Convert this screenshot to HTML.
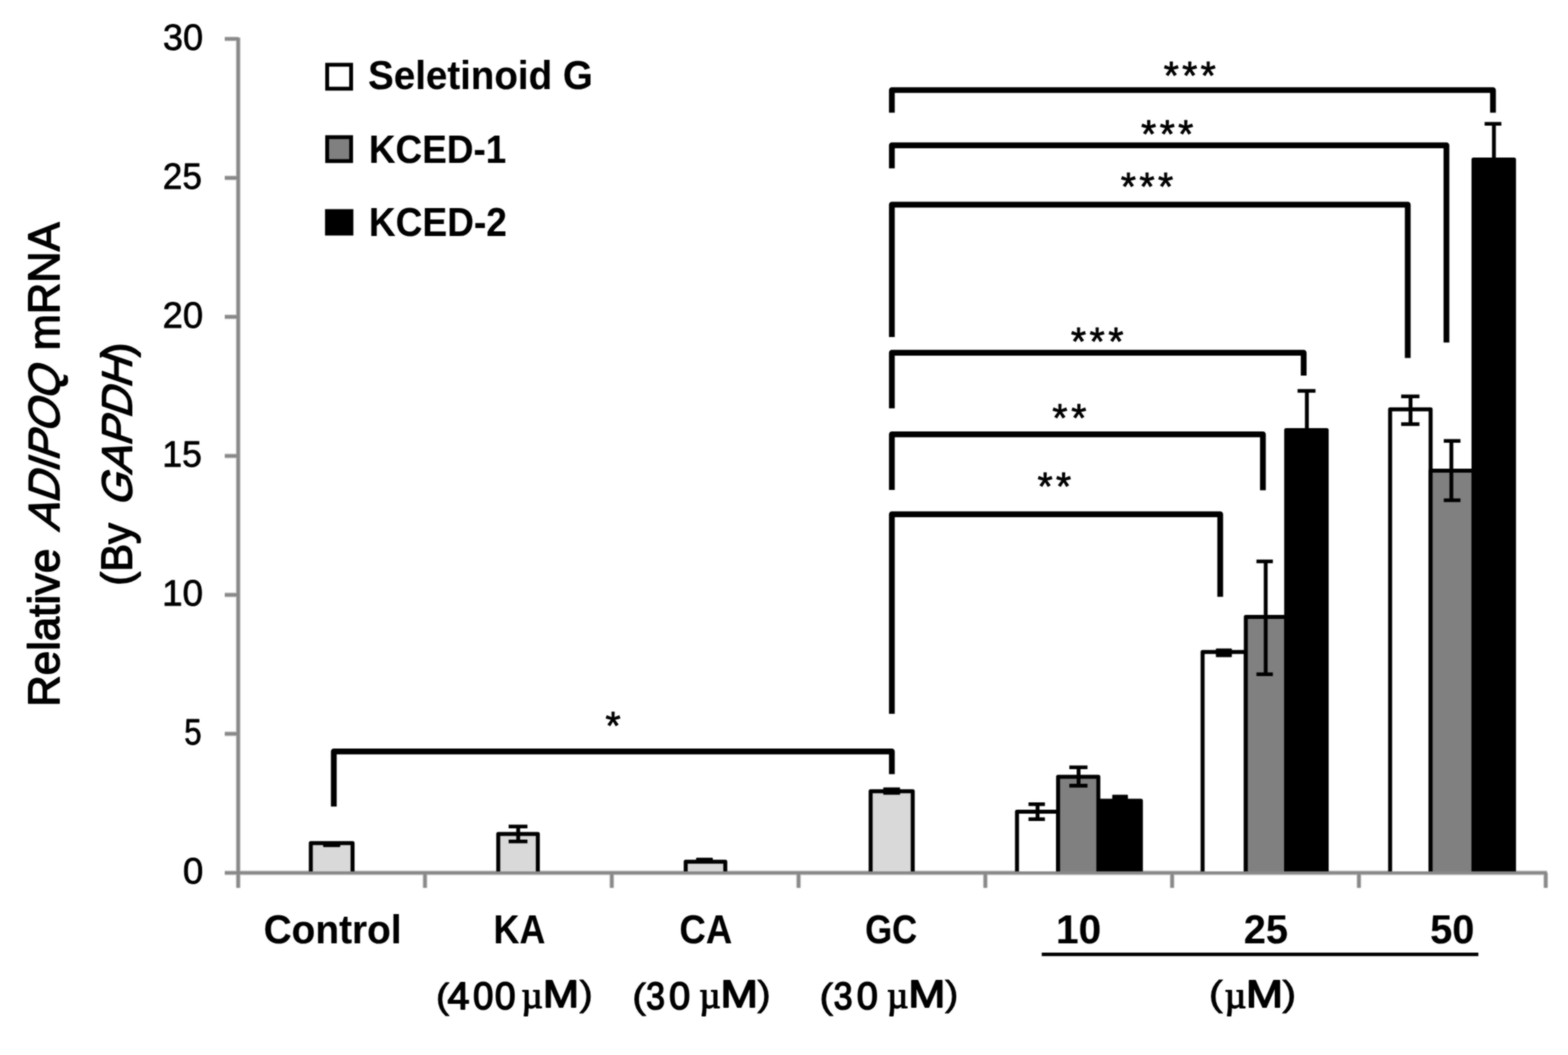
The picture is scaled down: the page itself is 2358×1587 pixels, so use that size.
<!DOCTYPE html>
<html lang="en"><head><meta charset="utf-8"><title>Relative ADIPOQ mRNA (By GAPDH)</title>
<style>
html,body{margin:0;padding:0;background:#fff;}
body{width:2358px;height:1587px;overflow:hidden;}
svg{display:block;}
text{font-family:"Liberation Sans",sans-serif;fill:#000;white-space:pre;stroke:#000;stroke-width:0.6px;stroke-linejoin:round;paint-order:stroke;}
.b{font-weight:bold;}
.i{font-style:italic;}
</style></head><body>
<svg width="2358" height="1587" viewBox="0 0 2358 1587">
<defs><filter id="soft" x="0" y="0" width="2358" height="1587" filterUnits="userSpaceOnUse" color-interpolation-filters="sRGB"><feGaussianBlur stdDeviation="0.90" result="b"/><feComposite in="SourceGraphic" in2="b" operator="arithmetic" k1="0" k2="0.30" k3="0.70" k4="0"/></filter></defs>
<rect x="0" y="0" width="2358" height="1587" fill="#fff"/>
<g filter="url(#soft)">
<path d="M358.2 56.6V1335.4M338.0 1313.0H2326.4M338.0 1103.9H358.2M338.0 894.8H358.2M338.0 685.8H358.2M338.0 476.7H358.2M338.0 267.6H358.2M338.0 58.5H358.2M639.1 1313.0V1335.4M920.0 1313.0V1335.4M1200.9 1313.0V1335.4M1481.8 1313.0V1335.4M1762.7 1313.0V1335.4M2043.6 1313.0V1335.4M2324.5 1313.0V1335.4" fill="none" stroke="#c8c8c8" stroke-width="7.2"/>
<path d="M467.4 1313.0V1268.3H530.2V1313.0" fill="#d9d9d9" stroke="#000" stroke-width="6.0" stroke-linejoin="round"/>
<path d="M749.3 1313.0V1254.6H808.8V1313.0" fill="#d9d9d9" stroke="#000" stroke-width="6.0" stroke-linejoin="round"/>
<path d="M1031.2 1313.0V1296.2H1090.7V1313.0" fill="#d9d9d9" stroke="#000" stroke-width="6.0" stroke-linejoin="round"/>
<path d="M1309.3 1313.0V1190.3H1372.6V1313.0" fill="#d9d9d9" stroke="#000" stroke-width="6.0" stroke-linejoin="round"/>
<path d="M1529.4 1313.0V1221.0H1591.2V1313.0" fill="#fff" stroke="#000" stroke-width="6.0" stroke-linejoin="round"/>
<path d="M1591.2 1313.0V1168.4H1651.7V1313.0" fill="#808080" stroke="#000" stroke-width="6.0" stroke-linejoin="round"/>
<path d="M1654.7 1313.0V1204.5H1715.7V1313.0" fill="#000" stroke="#000" stroke-width="6.0" stroke-linejoin="round"/>
<path d="M1808.5 1313.0V980.8H1873.5V1313.0" fill="#fff" stroke="#000" stroke-width="6.0" stroke-linejoin="round"/>
<path d="M1873.5 1313.0V928.0H1934.2V1313.0" fill="#808080" stroke="#000" stroke-width="6.0" stroke-linejoin="round"/>
<path d="M1934.2 1313.0V646.9H1995.1V1313.0" fill="#000" stroke="#000" stroke-width="6.0" stroke-linejoin="round"/>
<path d="M2090.5 1313.0V615.8H2151.4V1313.0" fill="#fff" stroke="#000" stroke-width="6.0" stroke-linejoin="round"/>
<path d="M2151.4 1313.0V708.0H2215.9V1313.0" fill="#808080" stroke="#000" stroke-width="6.0" stroke-linejoin="round"/>
<path d="M2215.9 1313.0V240.1H2276.8V1313.0" fill="#000" stroke="#000" stroke-width="6.0" stroke-linejoin="round"/>
<rect x="485.9" y="1267.4" width="25.8" height="6.9" rx="1.2" fill="#000"/>
<path d="M764.9 1243.3H793.2M764.9 1265.7H793.2" fill="none" stroke="#000" stroke-width="5.6"/>
<path d="M779.3 1243.3V1265.7" fill="none" stroke="#000" stroke-width="5.8"/>
<rect x="1046.8" y="1290.3" width="25.2" height="6.8" rx="1.2" fill="#000"/>
<rect x="1328.3" y="1184.4" width="25.3" height="11.2" rx="1.2" fill="#000"/>
<path d="M1546.7 1209.8H1571.4M1546.7 1232.2H1571.4" fill="none" stroke="#000" stroke-width="5.6"/>
<path d="M1560.3 1209.8V1232.2" fill="none" stroke="#000" stroke-width="5.8"/>
<path d="M1608.1 1154.2H1635.4M1608.1 1181.9H1635.4" fill="none" stroke="#000" stroke-width="5.6"/>
<path d="M1622.0 1154.2V1181.9" fill="none" stroke="#000" stroke-width="5.8"/>
<rect x="1672.6" y="1195.4" width="23.6" height="8.2" rx="1.2" fill="#000"/>
<rect x="1828.5" y="975.4" width="24.0" height="13.2" rx="1.2" fill="#000"/>
<path d="M1889.5 844.5H1914.2M1889.5 1014.2H1914.2" fill="none" stroke="#000" stroke-width="5.6"/>
<path d="M1903.4 844.5V1014.2" fill="none" stroke="#000" stroke-width="5.8"/>
<path d="M1951.3 588.0H1978.3M1951.3 650.0H1978.3" fill="none" stroke="#000" stroke-width="5.6"/>
<path d="M1965.3 588.0V650.0" fill="none" stroke="#000" stroke-width="5.8"/>
<path d="M2107.1 596.3H2134.6M2107.1 638.0H2134.6" fill="none" stroke="#000" stroke-width="5.6"/>
<path d="M2121.2 596.3V638.0" fill="none" stroke="#000" stroke-width="5.8"/>
<path d="M2171.2 663.2H2196.3M2171.2 752.5H2196.3" fill="none" stroke="#000" stroke-width="5.6"/>
<path d="M2182.6 663.2V752.5" fill="none" stroke="#000" stroke-width="5.8"/>
<path d="M2232.6 186.3H2257.8M2232.6 245.0H2257.8" fill="none" stroke="#000" stroke-width="5.6"/>
<path d="M2246.6 186.3V245.0" fill="none" stroke="#000" stroke-width="5.8"/>
<path d="M358.2 56.6V1335.4M338.0 1313.0H2326.4M338.0 1103.9H358.2M338.0 894.8H358.2M338.0 685.8H358.2M338.0 476.7H358.2M338.0 267.6H358.2M338.0 58.5H358.2M639.1 1313.0V1335.4M920.0 1313.0V1335.4M1200.9 1313.0V1335.4M1481.8 1313.0V1335.4M1762.7 1313.0V1335.4M2043.6 1313.0V1335.4M2324.5 1313.0V1335.4" fill="none" stroke="#888888" stroke-width="4.7"/>
<text y="74.7" font-size="56.1" style="stroke-width:1.0px"><tspan x="245.1" textLength="60.4" lengthAdjust="spacingAndGlyphs">30</tspan></text>
<text y="283.8" font-size="56.1" style="stroke-width:1.0px"><tspan x="244.7" textLength="58.9" lengthAdjust="spacingAndGlyphs">25</tspan></text>
<text y="492.9" font-size="56.1" style="stroke-width:1.0px"><tspan x="244.6" textLength="61.0" lengthAdjust="spacingAndGlyphs">20</tspan></text>
<text y="702.0" font-size="56.1" style="stroke-width:1.0px"><tspan x="243.9" textLength="59.7" lengthAdjust="spacingAndGlyphs">15</tspan></text>
<text y="911.0" font-size="56.1" style="stroke-width:1.0px"><tspan x="243.7" textLength="61.8" lengthAdjust="spacingAndGlyphs">10</tspan></text>
<text y="1120.1" font-size="56.1" style="stroke-width:1.0px"><tspan x="277.0" textLength="26.2" lengthAdjust="spacingAndGlyphs">5</tspan></text>
<text y="1329.2" font-size="56.1" style="stroke-width:1.0px"><tspan x="275.0" textLength="30.8" lengthAdjust="spacingAndGlyphs">0</tspan></text>
<text transform="translate(89.4 1587) rotate(-90)" x="523.8" y="0" font-size="65.8" textLength="237.7" lengthAdjust="spacingAndGlyphs" style="stroke-width:2.0px">Relative</text>
<text transform="translate(89.4 1587) rotate(-90) translate(787.1 0) skewX(-19)" x="0.0" y="0" font-size="65.8" textLength="246.3" lengthAdjust="spacingAndGlyphs" style="stroke-width:2.0px">ADIPOQ</text>
<text transform="translate(89.4 1587) rotate(-90)" x="1060.1" y="0" font-size="65.8" textLength="192.5" lengthAdjust="spacingAndGlyphs" style="stroke-width:2.0px">mRNA</text>
<text transform="translate(197.5 1587) rotate(-90)" x="706.1" y="0" font-size="63.9" textLength="94.1" lengthAdjust="spacingAndGlyphs" style="stroke-width:2.0px">(By</text>
<text transform="translate(197.5 1587) rotate(-90) translate(824.2 0) skewX(-19)" x="0.0" y="0" font-size="63.9" textLength="223.0" lengthAdjust="spacingAndGlyphs" style="stroke-width:2.0px">GAPDH</text>
<text transform="translate(197.5 1587) rotate(-90)" x="1049.4" y="0" font-size="63.9" textLength="22.2" lengthAdjust="spacingAndGlyphs" style="stroke-width:2.0px">)</text>
<rect x="492.0" y="97.4" width="36.0" height="36.0" fill="#fff" stroke="#000" stroke-width="5.8"/>
<rect x="492.0" y="206.3" width="36.0" height="36.0" fill="#808080" stroke="#000" stroke-width="5.8"/>
<rect x="488.8" y="314.6" width="42.6" height="39.7" fill="#000"/>
<text class="b" y="133.5" font-size="60.4" style="stroke-width:0.2px"><tspan x="553.6" textLength="337.9" lengthAdjust="spacingAndGlyphs">Seletinoid G</tspan></text>
<text class="b" y="244.9" font-size="60.1" style="stroke-width:0.2px"><tspan x="554.8" textLength="206.5" lengthAdjust="spacingAndGlyphs">KCED-1</tspan></text>
<text class="b" y="354.5" font-size="61.2" style="stroke-width:0.2px"><tspan x="554.8" textLength="207.4" lengthAdjust="spacingAndGlyphs">KCED-2</tspan></text>
<path d="M1341.2 169.5V135.5H2245.2V169.5" fill="none" stroke="#000" stroke-width="8.7" stroke-linejoin="round"/>
<path d="M1341.2 253.2V218.7H2175.2V515.3" fill="none" stroke="#000" stroke-width="8.7" stroke-linejoin="round"/>
<path d="M1341.2 507.1V307.8H2117.0V538.5" fill="none" stroke="#000" stroke-width="8.7" stroke-linejoin="round"/>
<path d="M1341.2 614.3V530.7H1960.5V565.0" fill="none" stroke="#000" stroke-width="8.7" stroke-linejoin="round"/>
<path d="M1341.2 736.9V653.4H1899.2V737.5" fill="none" stroke="#000" stroke-width="8.7" stroke-linejoin="round"/>
<path d="M1341.2 1073.8V773.6H1835.0V897.8" fill="none" stroke="#000" stroke-width="8.7" stroke-linejoin="round"/>
<path d="M502.0 1213.3V1130.3H1341.2V1164.5" fill="none" stroke="#000" stroke-width="8.7" stroke-linejoin="round"/>
<text x="1749.9" y="133.9" font-size="58.6" letter-spacing="5.00" style="stroke-width:1.1px">***</text>
<text x="1716.1" y="222.4" font-size="58.6" letter-spacing="5.05" style="stroke-width:1.1px">***</text>
<text x="1685.4" y="300.7" font-size="58.6" letter-spacing="5.30" style="stroke-width:1.1px">***</text>
<text x="1610.4" y="534.4" font-size="58.6" letter-spacing="5.35" style="stroke-width:1.1px">***</text>
<text x="1582.4" y="648.7" font-size="58.6" letter-spacing="5.70" style="stroke-width:1.1px">**</text>
<text x="1560.3" y="751.7" font-size="58.6" letter-spacing="5.00" style="stroke-width:1.1px">**</text>
<text x="910.5" y="1111.9" font-size="58.6" letter-spacing="0.00" style="stroke-width:1.1px">*</text>
<text class="b" y="1419.0" font-size="60.4" style="stroke-width:0.2px"><tspan x="396.4" textLength="207.6" lengthAdjust="spacingAndGlyphs">Control</tspan></text>
<text class="b" y="1419.0" font-size="60.4" style="stroke-width:0.2px"><tspan x="742.3" textLength="77.8" lengthAdjust="spacingAndGlyphs">KA</tspan></text>
<text class="b" y="1419.0" font-size="60.4" style="stroke-width:0.2px"><tspan x="1021.8" textLength="79.3" lengthAdjust="spacingAndGlyphs">CA</tspan></text>
<text class="b" y="1419.0" font-size="60.4" style="stroke-width:0.2px"><tspan x="1300.9" textLength="78.4" lengthAdjust="spacingAndGlyphs">GC</tspan></text>
<text class="b" y="1419.0" font-size="60.4" style="stroke-width:0.2px"><tspan x="1587.9" textLength="68.0" lengthAdjust="spacingAndGlyphs">10</tspan></text>
<text class="b" y="1419.0" font-size="60.4" style="stroke-width:0.2px"><tspan x="1870.5" textLength="66.3" lengthAdjust="spacingAndGlyphs">25</tspan></text>
<text class="b" y="1419.0" font-size="60.4" style="stroke-width:0.2px"><tspan x="2150.7" textLength="66.4" lengthAdjust="spacingAndGlyphs">50</tspan></text>
<text><tspan x="655.2" y="1516.5" font-size="53.8" textLength="20.7" lengthAdjust="spacingAndGlyphs" style="stroke-width:1.0px">(</tspan><tspan x="673.1" y="1517.7" font-size="56.5" textLength="33.0" lengthAdjust="spacingAndGlyphs" style="stroke-width:2.2px">4</tspan><tspan x="711.5" y="1517.7" font-size="56.5" textLength="30.4" lengthAdjust="spacingAndGlyphs" style="stroke-width:2.2px">0</tspan><tspan x="744.3" y="1517.7" font-size="56.5" textLength="31.0" lengthAdjust="spacingAndGlyphs" style="stroke-width:2.2px">0</tspan> <tspan x="784.3" y="1515.8" font-size="56.7" textLength="31.9" lengthAdjust="spacingAndGlyphs" style="stroke-width:1.8px;font-family:'Liberation Serif',serif">µ</tspan><tspan x="816.4" y="1514.8" font-size="57.1" textLength="54.2" lengthAdjust="spacingAndGlyphs" style="stroke-width:2.2px">M</tspan><tspan x="871.3" y="1513.3" font-size="53.2" textLength="20.4" lengthAdjust="spacingAndGlyphs" style="stroke-width:1.0px">)</tspan></text>
<text><tspan x="950.5" y="1516.5" font-size="53.8" textLength="21.4" lengthAdjust="spacingAndGlyphs" style="stroke-width:1.0px">(</tspan><tspan x="971.7" y="1517.7" font-size="56.5" textLength="28.2" lengthAdjust="spacingAndGlyphs" style="stroke-width:2.2px">3</tspan><tspan x="1006.3" y="1517.7" font-size="56.5" textLength="31.6" lengthAdjust="spacingAndGlyphs" style="stroke-width:2.2px">0</tspan> <tspan x="1051.7" y="1515.8" font-size="56.7" textLength="31.9" lengthAdjust="spacingAndGlyphs" style="stroke-width:1.8px;font-family:'Liberation Serif',serif">µ</tspan><tspan x="1083.6" y="1514.8" font-size="57.1" textLength="56.3" lengthAdjust="spacingAndGlyphs" style="stroke-width:2.2px">M</tspan><tspan x="1138.8" y="1513.3" font-size="53.2" textLength="20.4" lengthAdjust="spacingAndGlyphs" style="stroke-width:1.0px">)</tspan></text>
<text><tspan x="1232.1" y="1516.5" font-size="53.8" textLength="21.4" lengthAdjust="spacingAndGlyphs" style="stroke-width:1.0px">(</tspan><tspan x="1253.8" y="1517.7" font-size="56.5" textLength="28.3" lengthAdjust="spacingAndGlyphs" style="stroke-width:2.2px">3</tspan><tspan x="1288.4" y="1517.7" font-size="56.5" textLength="31.6" lengthAdjust="spacingAndGlyphs" style="stroke-width:2.2px">0</tspan> <tspan x="1333.9" y="1515.8" font-size="56.7" textLength="31.9" lengthAdjust="spacingAndGlyphs" style="stroke-width:1.8px;font-family:'Liberation Serif',serif">µ</tspan><tspan x="1365.9" y="1514.8" font-size="57.1" textLength="55.6" lengthAdjust="spacingAndGlyphs" style="stroke-width:2.2px">M</tspan><tspan x="1420.9" y="1513.3" font-size="53.2" textLength="20.4" lengthAdjust="spacingAndGlyphs" style="stroke-width:1.0px">)</tspan></text>
<text><tspan x="1817.7" y="1513.3" font-size="53.2" textLength="21.4" lengthAdjust="spacingAndGlyphs" style="stroke-width:1.0px">(</tspan><tspan x="1841.7" y="1515.8" font-size="56.7" textLength="32.4" lengthAdjust="spacingAndGlyphs" style="stroke-width:1.8px;font-family:'Liberation Serif',serif">µ</tspan><tspan x="1873.7" y="1514.8" font-size="57.1" textLength="55.6" lengthAdjust="spacingAndGlyphs" style="stroke-width:2.2px">M</tspan><tspan x="1928.2" y="1513.3" font-size="53.2" textLength="21.1" lengthAdjust="spacingAndGlyphs" style="stroke-width:1.0px">)</tspan></text>
<path d="M1566.6 1435.6H2223.2" fill="none" stroke="#000" stroke-width="5.4"/>
</g>
</svg></body></html>
